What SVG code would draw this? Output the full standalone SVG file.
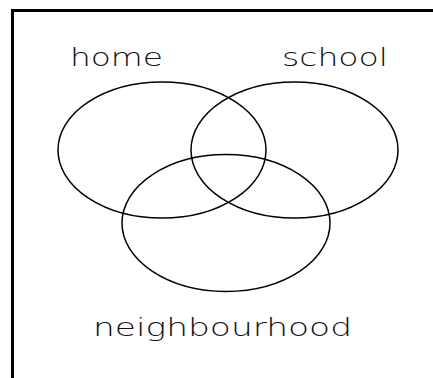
<svg xmlns="http://www.w3.org/2000/svg" width="433" height="378" viewBox="0 0 433 378">
<style>
.set{fill:none;stroke:#000;stroke-width:1.5}
.lbl{font-family:"DejaVu Sans","Liberation Sans",sans-serif;font-size:24px;font-weight:200;fill:#111}
</style>
<rect width="433" height="378" fill="#fff"/>
<g id="frame">
<line x1="12.5" y1="10.5" x2="433" y2="10.5" stroke="#000" stroke-width="3"/>
<line x1="12.5" y1="9" x2="12.5" y2="378" stroke="#000" stroke-width="3"/>
</g>
<g id="home">
<ellipse class="set" cx="162" cy="150" rx="104" ry="68"/>
<text class="lbl" x="70" y="66" textLength="93" lengthAdjust="spacingAndGlyphs">home</text>
</g>
<g id="school">
<ellipse class="set" cx="294.5" cy="150" rx="103.5" ry="68"/>
<text class="lbl" x="282" y="66" textLength="106" lengthAdjust="spacingAndGlyphs">school</text>
</g>
<g id="neighbourhood">
<ellipse class="set" cx="226" cy="223" rx="104" ry="68.5"/>
<text class="lbl" x="93" y="336" textLength="259" lengthAdjust="spacingAndGlyphs">neighbourhood</text>
</g>
<g id="connectors"></g>
</svg>
